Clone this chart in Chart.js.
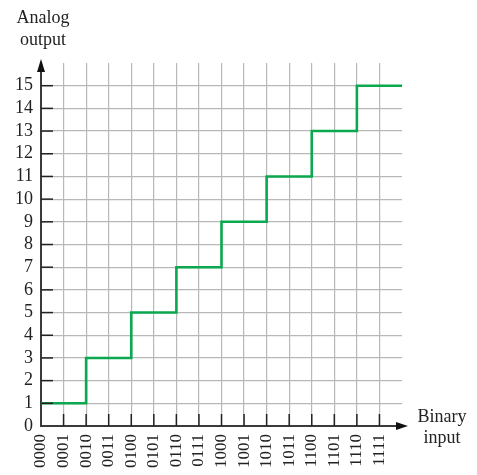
<!DOCTYPE html>
<html>
<head>
<meta charset="utf-8">
<script src="https://cdn.jsdelivr.net/npm/chart.js@4.4.1/dist/chart.umd.min.js"></script>
<style>
  body { margin: 0; background: #fff; }
  #wrap { width: 477px; height: 475px; position: relative; }
</style>
</head>
<body>
<div id="wrap"><canvas id="chart1"></canvas></div>
<script>
// binary input codes (x) and analog output levels (y)
let codes = ['0000','0001','0010','0011','0100','0101','0110','0111',
             '1000','1001','1010','1011','1100','1101','1110','1111'];
// last value carries the top step on to the right edge
let analog = [1,1,3,3,5,5,7,7,9,9,11,11,13,13,15,15,15];
let yTicks = [0,1,2,3,4,5,6,7,8,9,10,11,12,13,14,15];

let labels = codes.concat(['']);
let serif = "'Liberation Serif', 'DejaVu Serif', serif";
let axisColor = '#3a3a3a';
let gridColor = '#b8b8b8';

// inward tick marks, arrow heads and the two axis captions
let extras = {
  id: 'extras',
  afterDraw(chart) {
    let c = chart.ctx;
    let xs = chart.scales.x, ys = chart.scales.y;
    let area = chart.chartArea;
    c.save();
    c.strokeStyle = '#222';
    c.lineWidth = 1.5;
    for (let i = 1; i < codes.length; i++) {
      let px = xs.getPixelForValue(i);
      c.beginPath();
      c.moveTo(px, area.bottom);
      c.lineTo(px, area.bottom - 12);
      c.stroke();
    }
    for (let v = 1; v < yTicks.length; v++) {
      let py = ys.getPixelForValue(yTicks[v]);
      c.beginPath();
      c.moveTo(area.left, py);
      c.lineTo(area.left + 12, py);
      c.stroke();
    }
    // arrows
    c.fillStyle = '#111';
    c.beginPath();
    c.moveTo(area.left, area.top - 4);
    c.lineTo(area.left - 4, area.top + 9);
    c.lineTo(area.left + 4, area.top + 9);
    c.closePath();
    c.fill();
    c.beginPath();
    c.moveTo(area.right + 6, area.bottom);
    c.lineTo(area.right - 6, area.bottom - 4);
    c.lineTo(area.right - 6, area.bottom + 4);
    c.closePath();
    c.fill();
    // captions
    c.fillStyle = '#222';
    c.font = '18px ' + serif;
    c.textAlign = 'center';
    c.textBaseline = 'middle';
    c.fillText('Analog', 43, 18);
    c.fillText('output', 43, 40);
    c.fillText('Binary', 442, 417);
    c.fillText('input', 442, 438);
    c.restore();
  }
};

let options = {
  responsive: true,
  maintainAspectRatio: false,
  animation: false,
  layout: { padding: { left: 0, top: 63, right: 75, bottom: 0 } },
  plugins: { legend: { display: false }, tooltip: { enabled: false } },
  scales: {
    x: {
      type: 'category',
      offset: false,
      afterFit(s) { s.height = 49; },
      border: { display: true, color: axisColor, width: 2 },
      grid: {
        color: ctx => (ctx.index === 0 || ctx.index >= codes.length) ? 'rgba(0,0,0,0)' : gridColor,
        lineWidth: 1.2,
        drawTicks: false
      },
      ticks: {
        autoSkip: false,
        minRotation: 90,
        maxRotation: 90,
        padding: 8,
        color: '#222',
        font: { family: serif, size: 17 }
      }
    },
    y: {
      min: 0,
      max: 16,
      afterFit(s) { s.width = 41; },
      border: { display: true, color: axisColor, width: 2 },
      grid: {
        color: ctx => (ctx.tick.value === 0 || ctx.tick.value > 15) ? 'rgba(0,0,0,0)' : gridColor,
        lineWidth: 1.2,
        drawTicks: false
      },
      ticks: {
        stepSize: 1,
        autoSkip: false,
        padding: 8,
        color: '#222',
        font: { family: serif, size: 18 },
        callback: v => yTicks.includes(v) ? String(v) : ''
      }
    }
  }
};

let chart1 = new Chart(document.getElementById('chart1'), {
  type: 'line',
  data: {
    labels: labels,
    datasets: [{
      data: analog,
      borderColor: '#0aa84f',
      borderWidth: 2.6,
      pointRadius: 0,
      stepped: true,
      fill: false
    }]
  },
  options: options,
  plugins: [extras]
});
</script>
</body>
</html>
